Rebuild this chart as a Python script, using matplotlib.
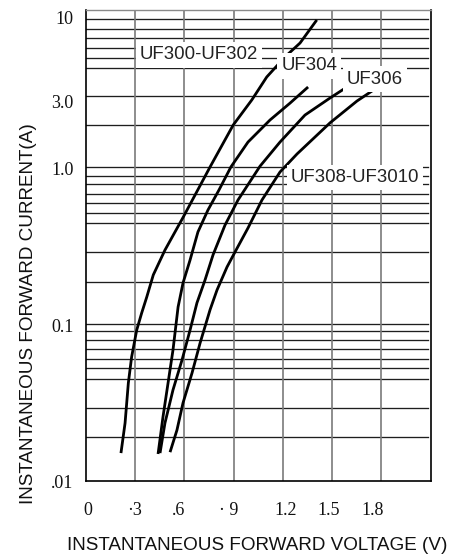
import matplotlib
matplotlib.use('Agg')
import matplotlib.pyplot as plt
from matplotlib.transforms import ScaledTranslation

# ---------------- data ----------------
uf300_v = [0.213, 0.238, 0.258, 0.278, 0.309, 0.339, 0.370, 0.410, 0.481, 0.593,
           0.756, 0.897, 1.010, 1.101, 1.212, 1.304, 1.406]
uf300_i = [0.0150, 0.0233, 0.0420, 0.0615, 0.0913, 0.117, 0.148, 0.205, 0.295, 0.480,
           1.00, 1.85, 2.67, 3.74, 5.02, 6.16, 8.64]

uf304_v = [0.439, 0.469, 0.500, 0.530, 0.561, 0.591, 0.634, 0.682, 0.743, 0.810,
           0.883, 0.987, 1.121, 1.243, 1.353]
uf304_i = [0.0148, 0.0255, 0.0420, 0.0681, 0.128, 0.182, 0.255, 0.385, 0.531, 0.712,
           1.00, 1.44, 1.99, 2.55, 3.23]

uf306_v = [0.451, 0.481, 0.530, 0.585, 0.634, 0.676, 0.725, 0.774, 0.847, 0.926,
           1.060, 1.182, 1.334, 1.487, 1.590]
uf306_i = [0.0150, 0.0233, 0.0379, 0.0588, 0.0913, 0.136, 0.190, 0.275, 0.426, 0.615,
           1.01, 1.44, 2.14, 2.75, 3.23]

uf308_v = [0.512, 0.554, 0.591, 0.646, 0.695, 0.756, 0.798, 0.859, 0.908, 0.987,
           1.072, 1.182, 1.286, 1.395, 1.487, 1.651, 1.779]
uf308_i = [0.0152, 0.0210, 0.0313, 0.0486, 0.0754, 0.123, 0.164, 0.230, 0.287, 0.408,
           0.615, 0.928, 1.21, 1.55, 1.91, 2.63, 3.23]

series_names = ["UF300-UF302", "UF304", "UF306", "UF308-UF3010"]

x_ticks = [0, 0.3, 0.6, 0.9, 1.2, 1.5, 1.8]
x_tick_labels = ["0", "\u00b73", ".6", "\u00b7 9", "1.2", "1.5", "1.8"]
y_ticks = [0.01, 0.1, 1.0, 3.0, 10]
y_tick_labels = [".01", "0.1", "1.0", "3.0", "10"]

# horizontal grid lines as drawn on the (hand-made) chart
y_grid = [0.0189, 0.0289, 0.0443, 0.0521, 0.0594, 0.0688, 0.0788, 0.0904, 0.1,
          0.1855, 0.288, 0.441, 0.506, 0.586, 0.672, 0.7815, 0.875, 1.0,
          1.842, 2.843, 4.287, 4.922, 5.70, 6.60, 7.565, 8.726]
x_grid = [0.3, 0.6, 0.9, 1.2, 1.5, 1.8]

x_label = "INSTANTANEOUS FORWARD VOLTAGE (V)"
y_label = "INSTANTANEOUS FORWARD CURRENT(A)"

# ---------------- figure ----------------
W, H = 468, 559
fig = plt.figure(figsize=(W / 100, H / 100), dpi=100)
ax = fig.add_axes([86 / W, 1 - 480.7 / H, (430.7 - 86) / W, (480.7 - 10) / H])
ax.set_yscale('log')
ax.set_xlim(0, 2.1)
ax.set_ylim(0.01, 10)

for y in y_grid:
    ax.axhline(y, xmin=0, xmax=0.991, color='#1e1e1e', lw=0.95, zorder=1)
for x in x_grid:
    ax.axvline(x, color='#7a7a7a', lw=1.2, zorder=1)

for v, i in [(uf300_v, uf300_i), (uf304_v, uf304_i), (uf306_v, uf306_i), (uf308_v, uf308_i)]:
    ax.plot(v, i, color='black', lw=2.0, solid_capstyle='butt', solid_joinstyle='round', zorder=3)

sans = ['Liberation Sans', 'DejaVu Sans']
serif = ['Liberation Serif', 'DejaVu Serif']
lab_pos = [(0.688, 5.17), (1.359, 4.40), (1.761, 3.63), (1.639, 0.856)]
for name, (px, py) in zip(series_names, lab_pos):
    ax.text(px, py, name, ha='center', va='center', fontsize=13.4, family=sans,
            color='#222222', zorder=5,
            bbox=dict(boxstyle='square,pad=0.22', fc='white', ec='none'))

ax.set_xticks(x_ticks)
ax.set_xticklabels(x_tick_labels, family=serif, fontsize=13, color='#111111')
ax.set_yticks(y_ticks)
ax.set_yticklabels(y_tick_labels, family=serif, fontsize=13, color='#111111')
ax.minorticks_off()
ax.tick_params(axis='x', length=0, pad=15)
ax.tick_params(axis='y', length=0, pad=9)

# small label shifts (pixels) as printed on the original sheet
x_shift = [2, -1, -6, -5, 3, -4, -9]
y_shift = [-1, -1.5, -1.5, -9, -8]
for lab, dx in zip(ax.get_xticklabels(), x_shift):
    lab.set_transform(lab.get_transform() + ScaledTranslation(dx / 100, 0, fig.dpi_scale_trans))
for lab, dy in zip(ax.get_yticklabels(), y_shift):
    lab.set_transform(lab.get_transform() + ScaledTranslation(0, dy / 100, fig.dpi_scale_trans))

for s in ['left', 'bottom', 'right']:
    ax.spines[s].set_color('black')
    ax.spines[s].set_linewidth(1.2)
ax.spines['top'].set_color('#8a8a8a')
ax.spines['top'].set_linewidth(1.0)

fig.text(257 / W, 1 - 546 / H, x_label, ha='center', va='center', fontsize=13.6,
         family=sans, color='#111111')
fig.text(29 / W, 1 - 314 / H, y_label, ha='center', va='center', rotation=90,
         fontsize=13.6, family=sans, color='#111111')

fig.savefig('out.png', dpi=100)
